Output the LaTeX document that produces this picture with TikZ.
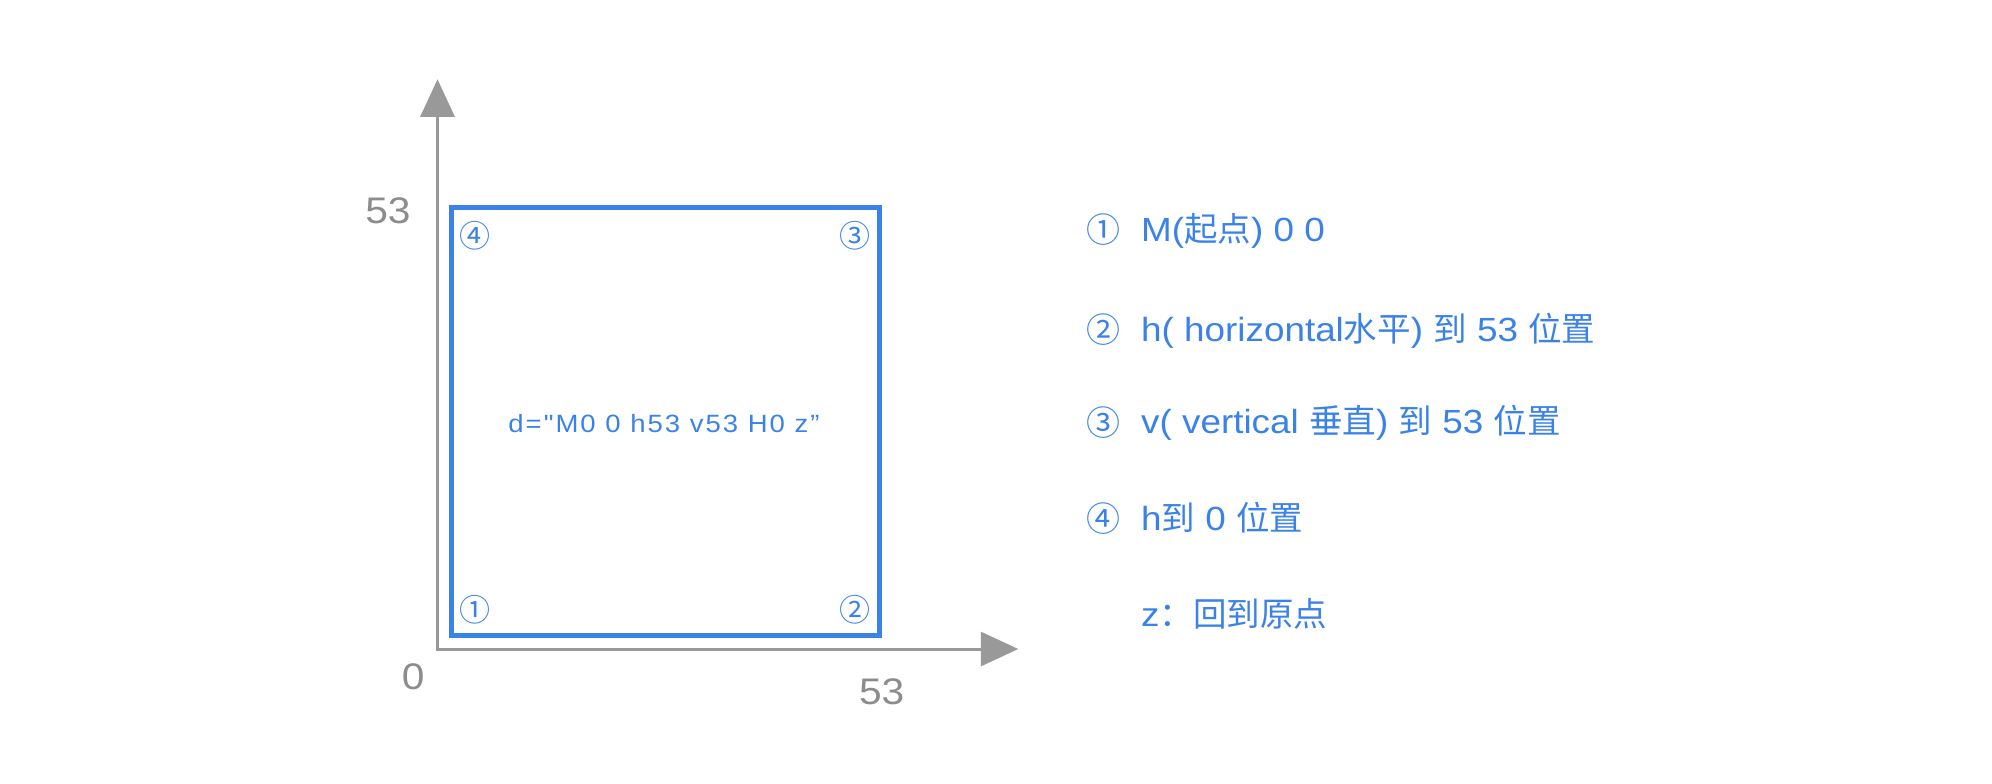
\documentclass[tikz,border=0pt]{standalone}
\usepackage{fontspec}
\usetikzlibrary{arrows.meta}
\newfontfamily\lat[FakeStretch=1.1]{Liberation Sans}
\newfontfamily\latsp[FakeStretch=1.1,LetterSpace=8]{Liberation Sans}
\newfontfamily\cjk{Noto Sans CJK SC}
\definecolor{myblue}{RGB}{59,130,232}
\definecolor{axisgray}{RGB}{153,153,153}
\definecolor{labelgray}{RGB}{140,140,140}
\tikzset{
  axisline/.style={draw=axisgray, line width=3pt,
    arrows={Triangle[length=37.5pt,width=34pt,fill=axisgray]-Triangle[length=37.5pt,width=34pt,fill=axisgray]}},
  pathbox/.style={draw=myblue, line width=5.5pt, minimum width=428.2pt, minimum height=428.2pt, inner sep=0pt},
  axislabel/.style={text=labelgray, inner sep=0pt, font=\lat\fontsize{37pt}{40pt}\selectfont},
  corner/.style={text=myblue, inner sep=0pt, font=\cjk\fontsize{31pt}{33pt}\selectfont},
  listnum/.style={text=myblue, inner sep=0pt, font=\cjk\fontsize{34pt}{36pt}\selectfont},
  listtext/.style={text=myblue, inner sep=0pt, anchor=base west, font=\fontsize{33.5pt}{36pt}\selectfont},
  centertext/.style={text=myblue, inner sep=0pt, font=\latsp\fontsize{25pt}{28pt}\selectfont}
}
\begin{document}
\begin{tikzpicture}[x=1pt,y=-1pt]
\useasboundingbox (0,0) rectangle (1992,784);
% axes
\coordinate (O) at (437.5,649);
\coordinate (ytip) at (437.5,79.3);
\coordinate (xtip) at (1018.3,649);
\draw[axisline] (ytip) -- (O) -- (xtip);
% labels on axes
\node[axislabel] (ylab) at (388,211) {53};
\node[axislabel] (olab) at (413.3,676.7) {0};
\node[axislabel] (xlab) at (881.7,692) {53};
% the path square
\node[pathbox] (sq) at (665.4,421.4) {};
\node[centertext] (dtext) at (664,424) {d="M0 0 h53 v53 H0 z”};
% corner numbers
\node[corner] (c1) at (474.7,610) {①};
\node[corner] (c2) at (855.3,610) {②};
\node[corner] (c3) at (855.3,235.5) {③};
\node[corner] (c4) at (475,235.7) {④};
% list
\node[listnum] (n1) at (1103,230) {①};
\node[listnum] (n2) at (1103,329.5) {②};
\node[listnum] (n3) at (1103,422.2) {③};
\node[listnum] (n4) at (1103,518.3) {④};
\node[listtext] (t1) at (1141,241.7) {\lat M(\cjk 起点\lat) 0 0};
\node[listtext] (t2) at (1141,341.2) {\lat h( horizontal\cjk 水平\lat) \cjk 到\lat{} 53 \cjk 位置};
\node[listtext] (t3) at (1141,433.9) {\lat v( vertical \cjk 垂直\lat) \cjk 到\lat{} 53 \cjk 位置};
\node[listtext] (t4) at (1141,530) {\lat h\cjk 到\lat{} 0 \cjk 位置};
\node[listtext] (t5) at (1141,626) {\lat z\cjk ：回到原点};
\end{tikzpicture}
\end{document}
